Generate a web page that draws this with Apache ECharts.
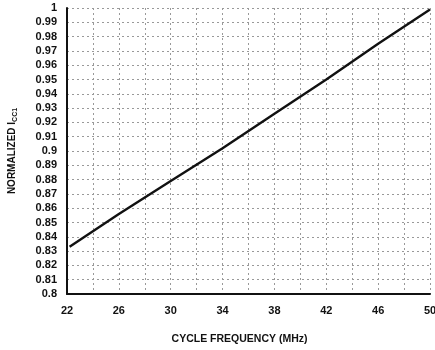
<!DOCTYPE html>
<html><head><meta charset="utf-8">
<script src="https://cdn.jsdelivr.net/npm/echarts@6/dist/echarts.min.js"></script>
<style>html,body{margin:0;padding:0;background:#fff}#c{width:435px;height:350px}</style>
</head><body><div id="c"></div>
<script>
const freq = [22.2, 26, 30, 34, 38, 42, 46, 50];
const icc = [0.833, 0.856, 0.879, 0.902, 0.926, 0.950, 0.975, 0.999];
const xLabels = [22, 26, 30, 34, 38, 42, 46, 50];
const chart = echarts.init(document.getElementById('c'));
chart.setOption({
  animation: false,
  grid: {left: 67, right: 5, top: 8, bottom: 56, containLabel: false, outerBoundsMode: 'none'},
  xAxis: {
    type: 'value', min: 22, max: 50, interval: 2,
    name: 'CYCLE FREQUENCY (MHz)', nameLocation: 'middle', nameGap: 40,
    nameTextStyle: {fontFamily: 'Liberation Sans', fontWeight: 'bold', fontSize: 10.5, color: '#111', padding: [0, 18, 0, 0]},
    axisLine: {show: true, lineStyle: {color: '#111', width: 2}},
    axisTick: {show: false},
    axisLabel: {fontFamily: 'Liberation Sans', fontWeight: 'bold', fontSize: 11, color: '#111', margin: 11,
      formatter: v => xLabels.includes(v) ? String(v) : ''},
    splitLine: {show: true, lineStyle: {color: '#999', type: [2, 3], width: 1}}
  },
  yAxis: {
    type: 'value', min: 0.8, max: 1, interval: 0.01,
    name: '{a|NORMALIZED I}{b|CC1}', nameLocation: 'middle', nameGap: 48, nameRotate: 90,
    nameTextStyle: {rich: {
      a: {fontFamily: 'Liberation Sans', fontWeight: 'bold', fontSize: 10, color: '#111'},
      b: {fontFamily: 'Liberation Sans', fontWeight: 'bold', fontSize: 7, color: '#111', verticalAlign: 'bottom', padding: [6, 0, 0, 0]}
    }},
    axisLine: {show: true, lineStyle: {color: '#111', width: 2}},
    axisTick: {show: false},
    axisLabel: {fontFamily: 'Liberation Sans', fontWeight: 'bold', fontSize: 11, color: '#111', margin: 10,
      formatter: v => String(parseFloat(v.toFixed(2)))},
    splitLine: {show: true, lineStyle: {color: '#999', type: [2, 3], width: 1}}
  },
  series: [{
    type: 'line', data: freq.map((f, i) => [f, icc[i]]),
    showSymbol: false, lineStyle: {color: '#111', width: 2.4}
  }]
});
</script></body></html>
